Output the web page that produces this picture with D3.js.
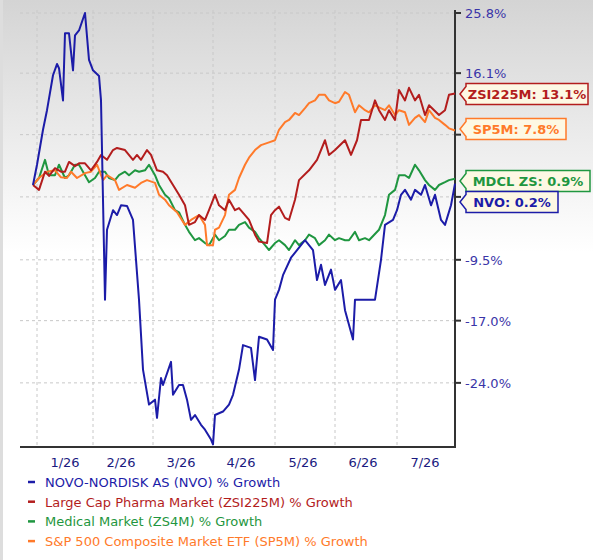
<!DOCTYPE html>
<html><head><meta charset="utf-8">
<script src="https://cdn.jsdelivr.net/npm/d3@7"></script>
<style>body{margin:0;background:#fff}svg{display:block;font-family:"DejaVu Sans",Verdana,sans-serif}</style>
</head><body><svg id="c" width="593" height="560"></svg>
<script>
// [day offset, % growth]
const nvo=[[0,0],[2,2.9],[5,7.9],[7,10.7],[10,15.7],[12,17.3],[13,16.7],[15,12.1],[16,21.7],[18,21.7],[20,16.4],[21,21.4],[23,22.1],[26,24.6],[28,17.9],[30,16.4],[33,15.6],[34,12.1],[35,-2.1],[36,-16.4],[37,-6.4],[40,-3.6],[42,-4.3],[44,-2.9],[47,-3.0],[50,-5.0],[53,-16.4],[55,-26.4],[58,-31.4],[61,-30.7],[62,-33.3],[64,-27.6],[65,-28.6],[69,-25.3],[70,-30.0],[73,-28.6],[75,-28.6],[77,-30.7],[79,-33.6],[81,-32.9],[84,-34.3],[86,-35.0],[89,-36.4],[90,-37.1],[91,-32.9],[95,-32.4],[98,-31.4],[100,-30.0],[103,-26.4],[105,-22.9],[109,-23.3],[111,-27.9],[113,-21.7],[117,-22.1],[120,-23.6],[121,-16.4],[123,-15.0],[125,-12.9],[129,-10.4],[134,-8.6],[136,-7.9],[140,-9.3],[142,-13.6],[144,-11.4],[146,-14.3],[149,-12.1],[151,-15.0],[154,-13.6],[156,-17.9],[160,-22.1],[161,-16.4],[165,-16.4],[168,-16.4],[171,-16.4],[174,-10.7],[176,-5.7],[180,-5.0],[182,-3.6],[184,-1.4],[186,-0.7],[189,-2.1],[191,-0.7],[194,-1.4],[196,0],[199,-2.9],[201,-1.4],[204,-5.0],[206,-5.7],[209,-2.9],[211,0.2]];
const zsi=[[0,0],[3,-0.7],[6,1.9],[8,1.3],[11,2.4],[14,1.9],[16,1.9],[18,3.3],[21,2.7],[23,3.1],[26,3.1],[29,2.1],[32,3.3],[34,4.3],[37,3.6],[40,5.0],[42,5.3],[46,5.0],[50,3.6],[52,4.3],[54,3.6],[57,5.0],[59,4.3],[62,2.1],[65,1.9],[67,1.4],[70,0],[73,-1.4],[76,-2.9],[78,-5.7],[81,-5.3],[83,-4.3],[86,-5.0],[88,-3.6],[91,-1.4],[93,-2.9],[96,-3.6],[98,-2.1],[101,-3.6],[103,-3.3],[106,-4.3],[108,-5.0],[111,-7.1],[113,-8.1],[117,-8.3],[119,-4.3],[121,-3.6],[123,-3.1],[126,-4.7],[128,-5.0],[131,-2.1],[133,0.7],[138,2.1],[142,3.6],[146,6.4],[148,4.3],[151,5.0],[156,6.4],[159,4.3],[162,6.4],[164,9.3],[168,9.3],[171,12.1],[173,10.7],[176,9.3],[178,10.7],[181,9.3],[183,13.6],[186,12.1],[188,13.9],[191,12.1],[193,12.9],[196,10.0],[198,11.4],[203,10.0],[206,10.7],[208,12.9],[211,13.1]];
const sp5m=[[0,0],[3,1.0],[7,1.9],[11,2.1],[14,1.1],[17,1.0],[19,1.9],[22,1.0],[26,1.7],[29,1.9],[32,2.9],[35,0.7],[37,1.4],[41,0.7],[43,-0.7],[47,0],[51,-0.4],[54,0.3],[57,0.7],[61,0.3],[63,-1.4],[66,-2.1],[68,-2.9],[72,-3.9],[76,-5.7],[79,-5.0],[83,-4.3],[86,-5.7],[87,-8.6],[90,-8.6],[91,-6.4],[93,-6.1],[96,-4.3],[98,-1.4],[101,-0.7],[103,1.0],[106,2.9],[108,3.9],[111,5.0],[114,5.7],[118,6.1],[121,6.4],[123,7.9],[126,9.0],[128,9.3],[131,10.3],[133,10.0],[136,11.0],[138,11.7],[141,12.1],[143,12.9],[146,12.9],[148,12.1],[151,11.7],[153,11.9],[156,13.3],[158,12.9],[161,10.4],[163,11.4],[166,10.7],[168,10.4],[171,11.4],[173,11.1],[176,10.7],[178,11.4],[181,10.0],[183,10.7],[186,10.4],[188,8.6],[191,9.6],[193,10.0],[196,9.0],[198,10.7],[201,9.6],[203,9.3],[206,8.6],[208,8.1],[211,7.8]];
const mdcl=[[0,0],[3,1.0],[6,3.6],[8,1.4],[11,1.4],[13,2.9],[16,1.0],[18,1.4],[21,2.9],[23,2.9],[26,1.4],[28,0.4],[31,1.0],[33,1.9],[36,1.9],[38,1.0],[41,0.7],[43,1.4],[46,1.9],[48,1.4],[51,2.1],[53,1.9],[56,2.1],[58,2.9],[61,1.4],[63,0],[66,-1.4],[68,-1.9],[71,-3.6],[73,-3.9],[76,-5.7],[78,-6.7],[81,-7.9],[83,-7.6],[86,-8.3],[88,-8.6],[91,-7.1],[93,-7.9],[96,-7.3],[98,-6.4],[101,-6.4],[103,-5.7],[106,-5.3],[108,-6.1],[111,-6.7],[113,-7.6],[116,-8.6],[118,-9.3],[121,-8.3],[123,-7.9],[126,-8.6],[128,-9.3],[131,-7.9],[133,-8.6],[136,-7.9],[138,-7.1],[141,-7.6],[143,-8.6],[146,-7.9],[148,-7.1],[151,-7.9],[153,-7.6],[156,-7.9],[158,-7.9],[161,-6.7],[163,-7.9],[166,-7.6],[168,-7.9],[173,-6.4],[176,-4.3],[178,-1.4],[181,-0.7],[183,1.4],[186,1.4],[188,1.0],[191,2.9],[193,2.1],[196,0.7],[198,0],[201,-0.7],[203,0],[206,0.4],[208,0.7],[211,0.9]];
const monthDays=[2,30,60,90,121,151,182];
const monthLabels=["1/26","2/26","3/26","4/26","5/26","6/26","7/26"];
const yTickVals=[24.6,16.0,7.2,-1.7,-10.7,-19.4,-28.3];
const yTickLabels=["25.8%","16.1%","8.6%","-1.5%","-9.5%","-17.0%","-24.0%"];
const seriesNames=["NOVO-NORDISK AS (NVO) % Growth","Large Cap Pharma Market (ZSI225M) % Growth","Medical Market (ZS4M) % Growth","S&P 500 Composite Market ETF (SP5M) % Growth"];
const endLabels=["NVO: 0.2%","ZSI225M: 13.1%","MDCL ZS: 0.9%","SP5M: 7.8%"];
const colors=["#1c1ca8","#b31d1d","#1f9640","#ff7a2a"];
const data=[nvo,zsi,mdcl,sp5m];

const svg=d3.select("#c");
const x=d3.scaleLinear().domain([0,211]).range([33,455]);
const y=d3.scaleLinear().domain([0,24.6]).range([185,13]);
const defs=svg.append("defs");
const g=defs.append("linearGradient").attr("id","bg").attr("x1",0).attr("y1",0).attr("x2",0).attr("y2",1);
g.append("stop").attr("offset","0").attr("stop-color","#d4d4d4");
g.append("stop").attr("offset","0.45").attr("stop-color","#ffffff");
g.append("stop").attr("offset","1").attr("stop-color","#ffffff");
svg.append("rect").attr("x",0).attr("y",0).attr("width",593).attr("height",560).attr("fill","url(#bg)");
svg.append("rect").attr("x",0).attr("y",0).attr("width",3).attr("height",560).attr("fill","#ddd");

// grid
svg.append("g").selectAll("line").data(yTickVals).join("line")
 .attr("x1",20).attr("x2",455).attr("y1",d=>y(d)).attr("y2",d=>y(d))
 .attr("stroke","#c8c8c8").attr("stroke-dasharray","3,3");
svg.append("g").selectAll("line").data(monthDays).join("line")
 .attr("x1",d=>x(d)).attr("x2",d=>x(d)).attr("y1",10).attr("y2",447)
 .attr("stroke","#c8c8c8").attr("stroke-dasharray","3,3");

// axes
svg.append("line").attr("x1",20).attr("x2",456).attr("y1",447).attr("y2",447).attr("stroke","#333").attr("stroke-width",2);
svg.append("line").attr("x1",455).attr("x2",455).attr("y1",10).attr("y2",447).attr("stroke","#333").attr("stroke-width",2);
const yA=svg.append("g");
yA.selectAll("line").data(yTickVals).join("line").attr("x1",455).attr("x2",461).attr("y1",d=>y(d)).attr("y2",d=>y(d)).attr("stroke","#333").attr("stroke-width",2);
yA.selectAll("text").data(yTickVals).join("text").attr("x",465).attr("y",d=>y(d)+5)
 .text((d,i)=>yTickLabels[i]).attr("fill","#3a35a8").attr("font-size",13);
svg.append("g").selectAll("text").data(monthDays).join("text")
 .attr("x",d=>x(d+14)).attr("y",467).attr("text-anchor","middle").attr("font-size",13).attr("fill","#1a1a80")
 .text((d,i)=>monthLabels[i]);

// lines
const line=d3.line().x(d=>x(d[0])).y(d=>y(d[1]));
[2,3,1,0].forEach(i=>{
 svg.append("path").datum(data[i]).attr("d",line).attr("fill","none").attr("stroke",colors[i]).attr("stroke-width",2).attr("stroke-linejoin","round");
});

// end labels
const boxes=[{i:1,cy:94,w:122},{i:3,cy:129,w:100},{i:2,cy:181,w:124},{i:0,cy:202,w:92}];
boxes.forEach(b=>{
 const x0=x(211)+5, h=21, bx=x0+6;
 const gg=svg.append("g");
 gg.append("path").attr("d",`M${x0},${b.cy} L${bx},${b.cy-h/2+3} L${bx},${b.cy-h/2} L${bx+b.w},${b.cy-h/2} L${bx+b.w},${b.cy+h/2} L${bx},${b.cy+h/2} L${bx},${b.cy+h/2-3} Z`)
  .attr("fill","#fdf8e4").attr("stroke",colors[b.i]).attr("stroke-width",1.5);
 gg.append("text").attr("x",bx+b.w/2).attr("y",b.cy+5).attr("text-anchor","middle").attr("font-size",13).attr("font-weight","bold").attr("fill",colors[b.i]).text(endLabels[b.i]);
});

// legend
const lg=svg.append("g").selectAll("g").data(seriesNames).join("g").attr("transform",(d,i)=>`translate(28,${482+i*19.7})`);
lg.append("line").attr("x1",0).attr("x2",7).attr("y1",0).attr("y2",0).attr("stroke",(d,i)=>colors[i]).attr("stroke-width",2.5);
lg.append("text").attr("x",17).attr("y",5).attr("font-size",13).attr("fill",(d,i)=>colors[i]).text(d=>d);
</script></body></html>
